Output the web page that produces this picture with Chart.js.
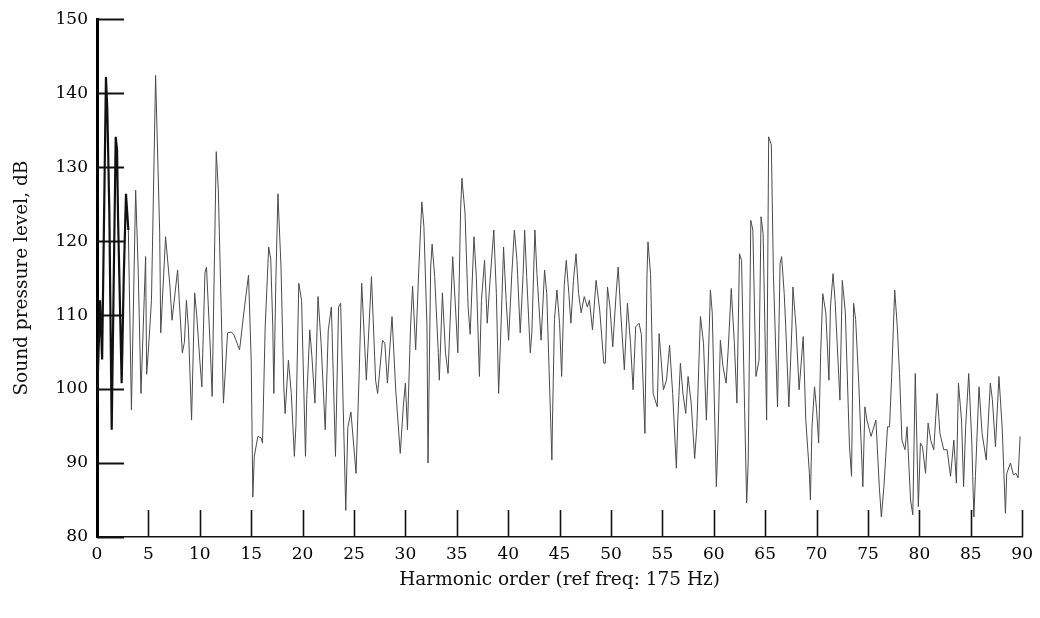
<!DOCTYPE html>
<html>
<head>
<meta charset="utf-8">
<script src="https://cdn.jsdelivr.net/npm/chart.js@4/dist/chart.umd.min.js"></script>
<style>
  body { margin: 0; background: #fff; }
  #wrap { width: 1040px; height: 618px; }
</style>
</head>
<body>
<div id="wrap"><canvas id="chart-canvas"></canvas></div>
<script>
// harmonic order (ref freq 175 Hz) vs sound pressure level, dB
let harmonic = [
  0.0, 0.3, 0.5, 0.87, 1.0, 1.2, 1.43, 1.6, 1.82, 1.95, 2.05, 2.4, 2.6, 2.82, 3.05, 3.35, 3.76, 4.0, 4.28, 4.73,
  4.83, 4.99, 5.3, 5.7, 6.1, 6.2, 6.67, 7.1, 7.3, 7.84, 8.0, 8.3, 8.5, 8.7, 8.9, 9.2, 9.5, 9.7, 10.0, 10.2,
  10.5, 10.65, 11.0, 11.2, 11.6, 11.8, 12.3, 12.7, 13.05, 13.3, 13.87, 14.35, 14.74, 15.0, 15.16, 15.3, 15.65, 15.97, 16.1, 16.36,
  16.7, 16.9, 17.1, 17.2, 17.4, 17.6, 17.9, 18.17, 18.3, 18.62, 18.9, 19.2, 19.35, 19.63, 19.9, 20.28, 20.4, 20.7, 20.9, 21.2,
  21.5, 21.8, 22.2, 22.5, 22.8, 23.2, 23.5, 23.7, 24.2, 24.4, 24.7, 25.2, 25.5, 25.75, 26.2, 26.7, 27.1, 27.3, 27.77, 28.0,
  28.25, 28.7, 29.06, 29.5, 29.8, 30.0, 30.2, 30.5, 30.7, 31.0, 31.3, 31.6, 31.8, 32.1, 32.2, 32.46, 32.6, 32.85, 33.2, 33.3,
  33.6, 33.9, 34.15, 34.6, 34.9, 35.1, 35.37, 35.5, 35.8, 36.1, 36.3, 36.67, 36.9, 37.2, 37.4, 37.7, 37.96, 38.2, 38.6, 38.85,
  39.07, 39.3, 39.55, 39.8, 40.04, 40.35, 40.6, 40.85, 41.17, 41.45, 41.6, 41.8, 42.15, 42.3, 42.6, 42.8, 43.2, 43.54, 43.75, 44.25,
  44.3, 44.5, 44.74, 45.0, 45.2, 45.45, 45.65, 45.9, 46.1, 46.35, 46.6, 46.85, 47.1, 47.4, 47.7, 47.9, 48.2, 48.55, 48.9, 49.3,
  49.45, 49.66, 49.9, 50.17, 50.5, 50.7, 50.95, 51.3, 51.6, 51.9, 52.15, 52.4, 52.73, 52.95, 53.3, 53.5, 53.6, 53.85, 54.1, 54.5,
  54.68, 55.1, 55.4, 55.7, 56.0, 56.36, 56.5, 56.75, 57.0, 57.27, 57.5, 57.8, 58.14, 58.35, 58.7, 59.0, 59.28, 59.45, 59.67, 59.85,
  60.25, 60.4, 60.64, 60.9, 61.2, 61.4, 61.7, 62.0, 62.25, 62.5, 62.7, 63.0, 63.2, 63.35, 63.6, 63.8, 64.1, 64.4, 64.6, 64.8,
  65.14, 65.34, 65.6, 65.8, 66.2, 66.45, 66.6, 66.85, 67.0, 67.3, 67.6, 67.7, 68.0, 68.3, 68.7, 68.95, 69.3, 69.4, 69.55, 69.8,
  70.0, 70.2, 70.4, 70.6, 70.9, 71.2, 71.35, 71.6, 71.8, 72.27, 72.5, 72.8, 73.2, 73.4, 73.6, 73.8, 74.1, 74.5, 74.7, 74.9,
  75.3, 75.77, 76.1, 76.3, 76.55, 76.9, 77.1, 77.3, 77.6, 77.85, 78.07, 78.3, 78.6, 78.8, 79.14, 79.36, 79.6, 79.9, 80.1, 80.3,
  80.6, 80.85, 81.1, 81.4, 81.73, 82.0, 82.37, 82.7, 83.03, 83.35, 83.6, 83.8, 84.1, 84.3, 84.5, 84.8, 85.1, 85.3, 85.45, 85.8,
  86.1, 86.5, 86.9, 87.1, 87.4, 87.74, 88.05, 88.37, 88.5, 88.86, 89.15, 89.4, 89.6, 89.8
];

let level = [
  98, 112, 104, 142.2, 138, 124, 94.5, 112, 134.1, 132.3, 123, 100.8, 115, 126.4, 121.5, 97.2, 126.9, 116.5, 99.4, 117.9,
  102, 105, 112, 142.4, 121, 107.6, 120.6, 113.8, 109.3, 116.1, 112, 104.9, 106.3, 112, 108, 95.8, 113, 110, 103.9, 100.3,
  115.7, 116.5, 106.2, 99, 132.1, 127, 98.1, 107.6, 107.7, 107.4, 105.3, 111.1, 115.4, 103.9, 85.4, 90.9, 93.6, 93.4, 92.7, 108.4,
  119.2, 117.6, 108.4, 99.4, 114.7, 126.4, 116.5, 100.3, 96.7, 103.9, 99.4, 90.9, 95, 114.3, 112, 90.9, 98.6, 108, 104.5, 98.1,
  112.5, 106.2, 94.5, 108, 111.1, 90.9, 111.1, 111.6, 83.6, 94.8, 96.9, 88.6, 102, 114.3, 101.2, 115.2, 101.2, 99.4, 106.6, 106.2,
  100.8, 109.8, 99.9, 91.3, 97.7, 100.8, 94.5, 108.4, 113.9, 105.3, 116.1, 125.3, 122, 108.4, 90, 116.5, 119.6, 115.2, 104.9, 101.2,
  113, 104.9, 102.1, 117.9, 110.3, 104.9, 124.2, 128.5, 123.8, 111.1, 107.4, 120.6, 115.2, 101.7, 112, 117.4, 108.9, 114, 121.5, 112.9,
  99.4, 108.4, 119.2, 112, 106.6, 115.5, 121.5, 117.5, 107.6, 115.5, 121.5, 115.2, 104.9, 107.6, 121.5, 115.5, 106.6, 116.1, 112.9, 90.4,
  95, 109.4, 113.4, 108.9, 101.7, 114, 117.4, 112.9, 108.9, 114.7, 118.3, 112.9, 110.3, 112.5, 111.1, 112, 108, 114.7, 110.7, 103.5,
  103.5, 113.8, 111.1, 105.7, 112.9, 116.5, 110.3, 102.6, 111.6, 106.2, 99.9, 108.4, 108.9, 107.4, 94, 115.5, 119.9, 115.5, 99.4, 97.6,
  107.5, 99.9, 101.2, 105.9, 99.4, 89.3, 95.8, 103.5, 99.4, 96.7, 101.7, 98.1, 90.6, 94.8, 109.8, 106.2, 95.8, 103, 113.4, 110.3,
  86.8, 92.7, 106.6, 103, 100.8, 105.3, 113.6, 106.2, 98.1, 118.3, 117.4, 97.2, 84.6, 90.4, 122.8, 121.5, 101.7, 103.9, 123.3, 121,
  95.8, 134.1, 133, 115.5, 97.6, 117, 117.9, 112.9, 108.4, 97.6, 108.4, 113.8, 108.4, 99.9, 107.1, 95.8, 88.6, 85, 94.8, 100.3,
  97.2, 92.7, 104.9, 112.9, 110.3, 101.2, 111.1, 115.6, 112, 98.5, 114.7, 110.3, 92.2, 88.2, 111.6, 109.4, 100.8, 86.8, 97.6, 95.8,
  93.6, 95.8, 86.8, 82.7, 86.8, 94.9, 94.9, 101.7, 113.4, 108.4, 102.1, 93.1, 91.8, 94.9, 85, 83, 102.1, 84.1, 92.7, 92.2,
  88.6, 95.4, 93.1, 91.8, 99.4, 94, 91.8, 91.8, 88.2, 93.1, 87.3, 100.8, 95.8, 86.8, 94.9, 102.1, 92.7, 82.7, 88.2, 100.3,
  94, 90.4, 100.8, 98.6, 92.2, 101.7, 94.9, 83.2, 88.6, 90, 88.4, 88.6, 88, 93.6
];

let xTicks = [0, 5, 10, 15, 20, 25, 30, 35, 40, 45, 50, 55, 60, 65, 70, 75, 80, 85, 90];
let yTicks = [80, 90, 100, 110, 120, 130, 140, 150];

const points = harmonic.map((h, i) => ({ x: h, y: level[i] }));

const serif = "'DejaVu Serif', 'Liberation Serif', serif";

// short tick marks pointing into the plot, like the original
const innerTicks = {
  id: "innerTicks",
  afterDraw(chart) {
    const { ctx, chartArea, scales } = chart;
    ctx.save();
    ctx.strokeStyle = "#111";
    ctx.lineWidth = 2;
    yTicks.forEach(function (v) {
      let y = Math.round(scales.y.getPixelForValue(v)) + 0.5;
      ctx.beginPath();
      ctx.moveTo(chartArea.left, y);
      ctx.lineTo(chartArea.left + 27, y);
      ctx.stroke();
    });
    ctx.lineWidth = 1.6;
    xTicks.forEach(function (v) {
      if (v === 0) return;
      let x = Math.round(scales.x.getPixelForValue(v)) + 0.5;
      ctx.beginPath();
      ctx.moveTo(x, chartArea.bottom);
      ctx.lineTo(x, chartArea.bottom - 27);
      ctx.stroke();
    });
    ctx.restore();
  },
};

const ctx = document.getElementById("chart-canvas");

window.spectrumChart = new Chart(ctx, {
  type: "line",
  data: {
    datasets: [
      {
        label: "SPL",
        data: points,
        borderColor: "#4a4a4a",
        borderWidth: 1,
        pointRadius: 0,
        tension: 0,
        segment: {
          borderWidth: (c) => (c.p0.parsed.x < 3 ? 2.2 : 1),
          borderColor: (c) => (c.p0.parsed.x < 3 ? "#111" : "#4a4a4a"),
        },
      },
    ],
  },
  options: {
    responsive: true,
    maintainAspectRatio: false,
    animation: false,
    layout: { padding: { top: 19, right: 17, left: 0, bottom: 0 } },
    plugins: {
      legend: { display: false },
      tooltip: { enabled: false },
    },
    scales: {
      x: {
        type: "linear",
        min: 0,
        max: 90,
        afterFit: (scale) => {
          scale.height = 81;
        },
        afterBuildTicks: (scale) => {
          scale.ticks = xTicks.map((v) => ({ value: v }));
        },
        grid: { display: false, drawTicks: false },
        border: { display: true, color: "#111", width: 1.5 },
        ticks: {
          padding: 7,
          color: "#000",
          font: { family: serif, size: 17 },
        },
        title: {
          display: true,
          text: "Harmonic order (ref freq: 175 Hz)",
          color: "#111",
          font: { family: serif, size: 18.5 },
          padding: { top: 0, bottom: 27 },
        },
      },
      y: {
        type: "linear",
        min: 80,
        max: 150,
        afterFit: (scale) => {
          scale.width = 97;
        },
        afterBuildTicks: (scale) => {
          scale.ticks = yTicks.map((v) => ({ value: v }));
        },
        grid: { display: false, drawTicks: false },
        border: { display: true, color: "#000", width: 3 },
        ticks: {
          padding: 9,
          color: "#000",
          font: { family: serif, size: 17 },
        },
        title: {
          display: true,
          text: "Sound pressure level, dB",
          color: "#111",
          font: { family: serif, size: 18.5 },
          padding: { top: 11, bottom: 0 },
        },
      },
    },
  },
  plugins: [innerTicks],
});
</script>
</body>
</html>
